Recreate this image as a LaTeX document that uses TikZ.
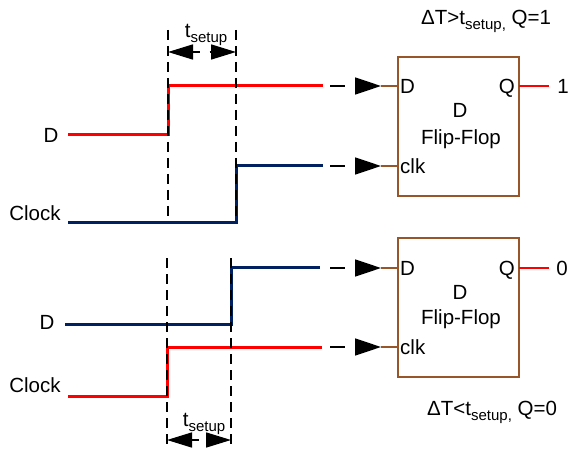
\documentclass[tikz,border=0pt]{standalone}
\usepackage{fontspec}
\setmainfont{Liberation Sans}
\usetikzlibrary{arrows.meta}
\definecolor{ffbrown}{RGB}{152,85,40}
\definecolor{sigblue}{RGB}{0,32,96}
\definecolor{sigred}{RGB}{255,0,0}
\newcommand\subtxt[1]{\raisebox{-0.45ex}{\fontsize{15}{15}\selectfont #1}}
\begin{document}
\begin{tikzpicture}[x=1pt,y=-1pt,
 lbl/.style={font=\fontsize{20.5}{24}\selectfont, inner sep=0pt, text height=14.7pt, text depth=0pt},
 ffbox/.style={draw=ffbrown, line width=2pt, minimum width=121pt, minimum height=139pt, inner sep=0pt},
 redsig/.style={draw=sigred, line width=3pt, line join=miter},
 bluesig/.style={draw=sigblue, line width=3pt, line join=miter},
 guide/.style={draw=black, line width=1.6pt, dash pattern=on 10pt off 6pt},
 inarrow/.style={draw=black, line width=1.6pt, dash pattern=on 15pt off 15pt, -{Triangle[length=26pt,width=17pt]}},
 tarrow/.style={draw=black, line width=1.6pt, dash pattern=on 7pt off 10pt, {Triangle[length=25pt,width=15pt]}-{Triangle[length=25pt,width=15pt]}},
 port/.style={draw=ffbrown, line width=2pt},
 qout/.style={draw=sigred, line width=1.6pt}]
\useasboundingbox (0,0) rectangle (570,449);

% ---------- top ----------
\node[ffbox] (ff1) at (458.5,126.5) {};
\coordinate (tD0) at (68,135); \coordinate (tD1) at (168,135);
\coordinate (tD2) at (168,86); \coordinate (tD3) at (323,86);
\coordinate (tC0) at (68,222); \coordinate (tC1) at (236,222);
\coordinate (tC2) at (236,166); \coordinate (tC3) at (323,166);
\draw[redsig] (tD0) -- (tD1) -- (tD2) -- (tD3);
\draw[bluesig] (tC0) -- (tC1) -- (tC2) -- (tC3);
\coordinate (tL0) at (168,30); \coordinate (tL1) at (168,218);
\coordinate (tR0) at (236,30); \coordinate (tR1) at (236,222);
\draw[guide] (tL0) -- (tL1);
\draw[guide] (tR0) -- (tR1);
\coordinate (tA0) at (168,52); \coordinate (tA1) at (236,52);
\draw[tarrow] (tA0) -- (tA1);
\node[lbl] (ts1) at (206,30) {t\subtxt{setup}};

\coordinate (tDi0) at (330,86); \coordinate (tDi1) at (381,86); \coordinate (tDp) at (398,86);
\coordinate (tCi0) at (330,166); \coordinate (tCi1) at (381,166); \coordinate (tCp) at (398,166);
\draw[inarrow] (tDi0) -- (tDi1);
\draw[inarrow] (tCi0) -- (tCi1);
\draw[port] (tDi1) -- (tDp);
\draw[port] (tCi1) -- (tCp);
\coordinate (tQp) at (519,86); \coordinate (tQo) at (549,86);
\draw[qout] (tQp) -- (tQo);
\node[lbl] (one) at (563,86) {1};
\node[lbl, anchor=west] (tDl) at (400,86) {D};
\node[lbl, anchor=west] (tCl) at (400,166) {clk};
\node[lbl, anchor=east] (tQl) at (515,86) {Q};
\node[lbl] (tn1) at (460,110) {D};
\node[lbl] (tn2) at (461,137) {Flip-Flop};
\node[lbl] (lD1) at (51,135) {D};
\node[lbl] (lC1) at (35,213) {Clock};
\node[lbl, anchor=west] (cond1) at (421,17) {ΔT>t\subtxt{setup,} Q=1};

% ---------- bottom ----------
\node[ffbox] (ff2) at (458.5,307.5) {};
\coordinate (bD0) at (65,324); \coordinate (bD1) at (231,324);
\coordinate (bD2) at (231,267); \coordinate (bD3) at (320,267);
\coordinate (bC0) at (68,396); \coordinate (bC1) at (167,396);
\coordinate (bC2) at (167,347); \coordinate (bC3) at (322,347);
\draw[bluesig] (bD0) -- (bD1) -- (bD2) -- (bD3);
\draw[redsig] (bC0) -- (bC1) -- (bC2) -- (bC3);
\coordinate (bL0) at (167,258); \coordinate (bL1) at (167,447);
\coordinate (bR0) at (231,258); \coordinate (bR1) at (231,447);
\draw[guide] (bL0) -- (bL1);
\draw[guide] (bR0) -- (bR1);
\coordinate (bA0) at (167,440); \coordinate (bA1) at (231,440);
\draw[tarrow] (bA0) -- (bA1);
\node[lbl] (ts2) at (204,419) {t\subtxt{setup}};

\coordinate (bDi0) at (330,268); \coordinate (bDi1) at (381,268); \coordinate (bDp) at (398,268);
\coordinate (bCi0) at (330,347); \coordinate (bCi1) at (381,347); \coordinate (bCp) at (398,347);
\draw[inarrow] (bDi0) -- (bDi1);
\draw[inarrow] (bCi0) -- (bCi1);
\draw[port] (bDi1) -- (bDp);
\draw[port] (bCi1) -- (bCp);
\coordinate (bQp) at (519,268); \coordinate (bQo) at (549,268);
\draw[qout] (bQp) -- (bQo);
\node[lbl] (zero) at (562,268) {0};
\node[lbl, anchor=west] (bDl) at (400,268) {D};
\node[lbl, anchor=west] (bCl) at (400,347) {clk};
\node[lbl, anchor=east] (bQl) at (515,268) {Q};
\node[lbl] (bn1) at (460,292) {D};
\node[lbl] (bn2) at (461,317) {Flip-Flop};
\node[lbl] (lD2) at (47,322) {D};
\node[lbl] (lC2) at (35,385) {Clock};
\node[lbl, anchor=west] (cond2) at (427,408) {ΔT<t\subtxt{setup,} Q=0};
\end{tikzpicture}
\end{document}
